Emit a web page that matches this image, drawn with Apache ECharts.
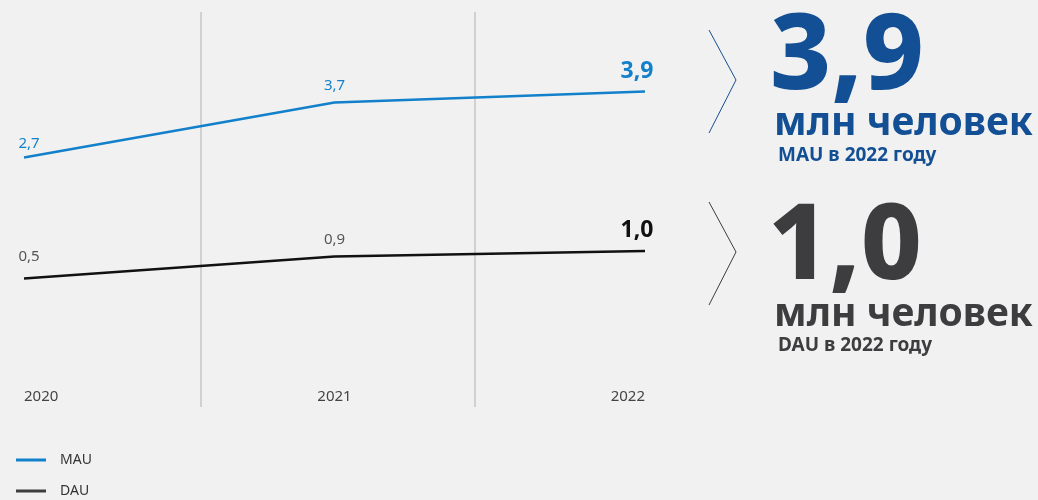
<!DOCTYPE html>
<html>
<head>
<meta charset="utf-8">
<script src="https://cdn.jsdelivr.net/npm/echarts@6/dist/echarts.min.js"></script>
<style>
    html, body { margin: 0; padding: 0; background: #f1f1f1; }
    #chart_box { width: 1038px; height: 500px; }
</style>
</head>
<body>
<div id="chart_box"></div>
<script>
// данные
const years = ['2020', '2021', '2022'];
const mau = [2.7, 3.7, 3.9];
const dau = [0.5, 0.9, 1.0];
const seriesNames = ['MAU', 'DAU'];
const captionUnit = 'млн человек';
const captionYear = 'в 2022 году';

const blue = '#1380cb';
const darkBlue = '#124f94';
const dark = '#3d3d3f';
const font = '"Noto Sans", sans-serif';

function fmt(v) {
    return v.toFixed(1).replace('.', ',');
}

function buildData(values, bigColor, firstOffset) {
    return values.map(function (v, i) {
        let last = i === values.length - 1;
        let item = { value: v };
        item.label = last ? {
            fontSize: 23, fontWeight: 'bold', color: bigColor, offset: [-8, 0]
        } : {
            offset: i === 0 ? firstOffset : [0, 0]
        };
        return item;
    });
}

let myChart = echarts.init(document.getElementById('chart_box'));

let myOption = {
    backgroundColor: '#f1f1f1',
    animation: false,
    textStyle: { fontFamily: font },
    grid: {
        left: 24,
        right: 393,
        top: 31,
        bottom: 194
    },
    legend: {
        orient: 'vertical',
        left: 11,
        top: 448,
        height: 80,
        itemWidth: 30,
        itemHeight: 3,
        itemGap: 17,
        icon: 'rect',
        textStyle: { fontSize: 14, color: '#333', fontFamily: font, padding: [0, 0, 0, 9] },
        data: [
            { name: seriesNames[0], itemStyle: { color: blue } },
            { name: seriesNames[1], itemStyle: { color: dark } }
        ]
    },
    xAxis: {
        type: 'category',
        boundaryGap: false,
        data: years,
        axisLine: { show: false },
        axisTick: { show: false },
        splitLine: { show: false },
        axisLabel: {
            margin: 83,
            fontSize: 15,
            color: '#444',
            alignMinLabel: 'left',
            alignMaxLabel: 'right'
        }
    },
    yAxis: {
        type: 'value',
        min: 0,
        max: 5,
        show: false,
        splitLine: { show: false }
    },
    graphic: [
        // вертикальные разделители
        { type: 'line', shape: { x1: 201, y1: 12, x2: 201, y2: 407 }, style: { stroke: '#b0b0b0', lineWidth: 1 } },
        { type: 'line', shape: { x1: 475, y1: 12, x2: 475, y2: 407 }, style: { stroke: '#b0b0b0', lineWidth: 1 } },
        // шевроны
        { type: 'polyline', shape: { points: [[709, 30], [736, 80], [709, 133]] }, style: { stroke: darkBlue, lineWidth: 1, fill: null } },
        { type: 'polyline', shape: { points: [[709, 202], [736, 252], [709, 305]] }, style: { stroke: dark, lineWidth: 1, fill: null } },
        // MAU
        { type: 'text', left: 770, top: 6, style: { text: fmt(mau[mau.length - 1]), font: '800 106px ' + font, fill: darkBlue } },
        { type: 'text', left: 774, top: 104, style: { text: captionUnit, font: 'bold 39px ' + font, fill: darkBlue } },
        { type: 'text', left: 778, top: 146, style: { text: seriesNames[0] + ' ' + captionYear, font: 'bold 19px ' + font, fill: darkBlue } },
        // DAU
        { type: 'text', left: 768, top: 196, style: { text: fmt(dau[dau.length - 1]), font: '800 106px ' + font, fill: dark } },
        { type: 'text', left: 774, top: 295, style: { text: captionUnit, font: 'bold 39px ' + font, fill: dark } },
        { type: 'text', left: 778, top: 336, style: { text: seriesNames[1] + ' ' + captionYear, font: 'bold 19px ' + font, fill: dark } }
    ],
    series: [
        {
            name: seriesNames[0],
            type: 'line',
            symbol: 'circle',
            symbolSize: 0,
            showSymbol: true,
            color: blue,
            lineStyle: { width: 2.5, color: blue },
            label: {
                show: true,
                position: 'top',
                distance: 9,
                fontSize: 15,
                color: blue,
                formatter: function (p) { return fmt(p.value); }
            },
            data: buildData(mau, blue, [5, 3])
        },
        {
            name: seriesNames[1],
            type: 'line',
            symbol: 'circle',
            symbolSize: 0,
            showSymbol: true,
            color: dark,
            lineStyle: { width: 2.5, color: '#111' },
            label: {
                show: true,
                position: 'top',
                distance: 9,
                fontSize: 15,
                color: '#555',
                formatter: function (p) { return fmt(p.value); }
            },
            data: buildData(dau, '#111', [5, -5])
        }
    ]
};

myChart.setOption(myOption);
</script>
</body>
</html>
